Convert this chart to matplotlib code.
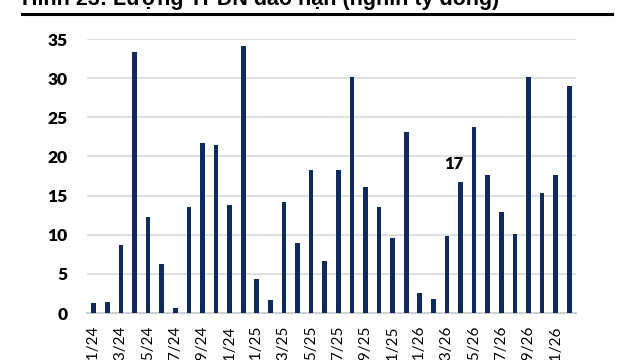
import matplotlib
matplotlib.use("Agg")
import matplotlib.pyplot as plt
from matplotlib.lines import Line2D

# Data
months = [f"{m:02d}/{y}" for y in (24, 25, 26) for m in range(1, 13)]
values = [1.3, 1.4, 8.7, 33.4, 12.2, 6.2, 0.7, 13.6, 21.7, 21.4, 13.8, 34.1,
          4.4, 1.7, 14.2, 9.0, 18.3, 6.7, 18.3, 30.1, 16.1, 13.6, 9.6, 23.1,
          2.5, 1.8, 9.8, 16.7, 23.7, 17.6, 12.9, 10.1, 30.1, 15.3, 17.6, 29.0]
tick_labels = [lab if i % 2 == 0 else "" for i, lab in enumerate(months)]
yticks = [0, 5, 10, 15, 20, 25, 30, 35]
annot_index = 27
annot_text = "17"
title = "Hình 23: Lượng TPDN đáo hạn (nghìn tỷ đồng)"

W, H = 640, 360
fig = plt.figure(figsize=(6.4, 3.6), dpi=100)
ax = fig.add_axes([87 / W, 1 - 313 / H, (576 - 87) / W, (313 - 39) / H])

x = list(range(len(values)))
ax.bar(x, values, width=0.34, color="#0f2a5f", zorder=3)
ax.set_xlim(-0.5, len(values) - 0.5)
ax.set_ylim(0, 35)
ax.set_yticks(yticks)
ax.set_yticklabels([str(v) for v in yticks], fontfamily="Lato", fontweight="heavy", fontsize=12.5)
ax.set_xticks(x)
ax.set_xticklabels(tick_labels, rotation=90, fontfamily="Lato", fontsize=11, va="top")
ax.tick_params(axis="y", length=0, pad=14)
ax.tick_params(axis="x", length=0, pad=9)
ax.grid(axis="y", color="#d9d9d9", linewidth=1.2, zorder=0)
for s in ("top", "right", "left"):
    ax.spines[s].set_visible(False)
ax.spines["bottom"].set_color("#d0d0d0")
ax.spines["bottom"].set_linewidth(1.5)

ax.text(annot_index - 0.5, values[annot_index] + 1.3, annot_text, ha="center", va="bottom",
        fontfamily="Lato", fontweight="heavy", fontsize=12)

fig.text(22 / W, 1 - 5 / H, title, ha="left", va="baseline",
         fontfamily="Liberation Sans", fontweight="bold", fontsize=15.5)
fig.add_artist(Line2D([22 / W, 612 / W], [1 - 13.5 / H, 1 - 13.5 / H],
                      color="black", linewidth=2.2, transform=fig.transFigure))

fig.savefig("out.png", dpi=100)
